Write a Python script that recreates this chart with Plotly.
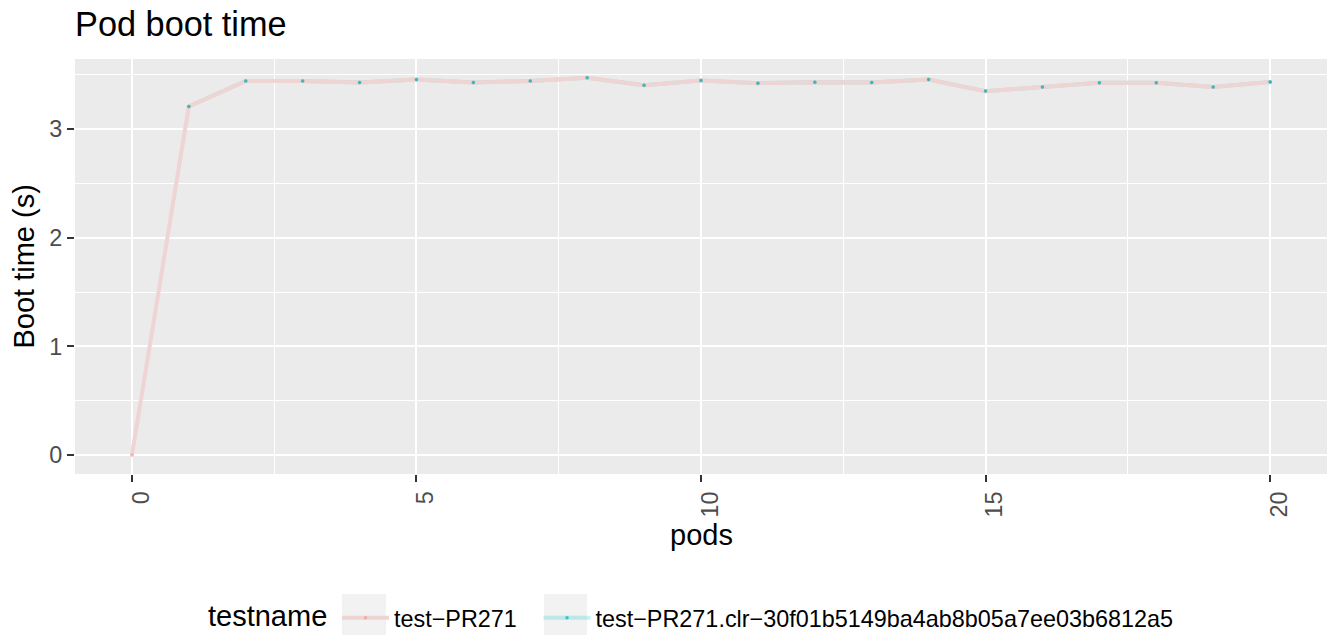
import plotly.graph_objects as go

# Data
pods = list(range(0, 21))
boot_pr271 = [0.0, 3.208, 3.443, 3.443, 3.428, 3.456, 3.428, 3.443, 3.471, 3.404, 3.447,
              3.422, 3.431, 3.428, 3.456, 3.349, 3.388, 3.425, 3.425, 3.388, 3.434]
pods_clr = list(range(1, 21))
boot_clr = [3.208, 3.443, 3.443, 3.428, 3.456, 3.428, 3.443, 3.471, 3.404, 3.447,
            3.422, 3.431, 3.428, 3.456, 3.349, 3.388, 3.425, 3.425, 3.388, 3.434]
series_names = ["test\u2212PR271", "test\u2212PR271.clr\u221230f01b5149ba4ab8b05a7ee03b6812a5"]
legend_title = "testname"
x_ticks = [0, 5, 10, 15, 20]
y_ticks = [0, 1, 2, 3]

FONT = "Liberation Sans, Arial, Helvetica, sans-serif"

# plot-area geometry in pixels (used to place decoration in paper coordinates)
W, H = 1331, 637
ML, MR, MT, MB = 75, 4, 59, 163
PW, PH = W - ML - MR, H - MT - MB


def px_x(px):
    return (px - ML) / PW


def px_y(py):
    return (H - MB - py) / PH


fig = go.Figure()

# teal series line (underneath), shown in second legend
fig.add_trace(go.Scatter(
    x=pods_clr, y=boot_clr, name=series_names[1], mode="lines+markers",
    line=dict(color="rgba(0,191,196,0.22)", width=4),
    marker=dict(color="rgba(0,191,196,0.75)", size=3.5),
    legend="legend2",
))
# red series (line on top)
fig.add_trace(go.Scatter(
    x=pods, y=boot_pr271, name=series_names[0], mode="lines+markers",
    line=dict(color="#EED4D2", width=4),
    marker=dict(color="rgba(248,118,109,0.45)", size=3.5),
    legend="legend",
))
# teal points on top
fig.add_trace(go.Scatter(
    x=pods_clr, y=boot_clr, name=series_names[1], mode="markers",
    marker=dict(color="rgba(0,191,196,0.75)", size=3.5),
    showlegend=False,
))

all_y = boot_pr271 + boot_clr
ymin, ymax = min(all_y), max(all_y)
yr = ymax - ymin
xmin, xmax = min(pods), max(pods)
xr = xmax - xmin

legend_common = dict(
    orientation="h", xref="container", yref="container",
    xanchor="left", y=1 - 618 / H, yanchor="middle",
    font=dict(size=23.4, color="black", family=FONT),
    itemwidth=47,
    bgcolor="rgba(0,0,0,0)",
)

# legend key background boxes (ggplot style)
key_boxes = [(342, 386), (544, 587)]
shapes = [
    dict(type="rect", xref="paper", yref="paper",
         x0=px_x(a), x1=px_x(b), y0=px_y(635), y1=px_y(594),
         fillcolor="#F2F2F2", line=dict(width=0), layer="below")
    for a, b in key_boxes
]

fig.update_layout(
    width=W, height=H,
    margin=dict(l=ML, r=MR, t=MT, b=MB),
    paper_bgcolor="white",
    plot_bgcolor="#EBEBEB",
    font=dict(family=FONT, color="black"),
    title=dict(text="Pod boot time", x=75 / W, xanchor="left", xref="container",
               y=1 - 24 / H, yanchor="middle", yref="container",
               font=dict(size=34.3, color="black", family=FONT)),
    showlegend=True,
    legend=dict(x=337 / W, **legend_common),
    legend2=dict(x=538.5 / W, **legend_common),
    shapes=shapes,
    xaxis=dict(
        range=[xmin - 0.05 * xr, xmax + 0.05 * xr],
        tickvals=x_ticks, ticktext=[str(v) for v in x_ticks],
        tickangle=-90,
        ticklabelshift=9,
        tickfont=dict(size=23.4, color="#4D4D4D"),
        ticks="outside", ticklen=7, tickwidth=2, tickcolor="#333333",
        showgrid=True, gridcolor="white", gridwidth=2,
        minor=dict(dtick=2.5, tick0=0, showgrid=True, gridcolor="white", gridwidth=1, ticks=""),
        zeroline=False, showline=False,
    ),
    yaxis=dict(
        range=[ymin - 0.05 * yr, ymax + 0.05 * yr],
        tickvals=y_ticks, ticktext=[str(v) for v in y_ticks],
        tickfont=dict(size=23.4, color="#4D4D4D"),
        ticks="outside", ticklen=7, tickwidth=2, tickcolor="#333333",
        showgrid=True, gridcolor="white", gridwidth=2,
        minor=dict(dtick=0.5, tick0=0, showgrid=True, gridcolor="white", gridwidth=1, ticks=""),
        zeroline=False, showline=False,
    ),
    annotations=[
        dict(text="pods", xref="paper", yref="paper", x=0.5, y=px_y(535),
             xanchor="center", yanchor="middle", showarrow=False,
             font=dict(size=29, color="black", family=FONT)),
        dict(text="Boot time (s)", xref="paper", yref="paper", x=px_x(23), y=0.5,
             xanchor="center", yanchor="middle", textangle=-90, showarrow=False,
             font=dict(size=29, color="black", family=FONT)),
        dict(text=legend_title, xref="paper", yref="paper", x=px_x(205.5), y=px_y(616),
             xanchor="left", yanchor="middle", showarrow=False,
             font=dict(size=29, color="black", family=FONT)),
    ],
)

fig.write_html("out.html")
